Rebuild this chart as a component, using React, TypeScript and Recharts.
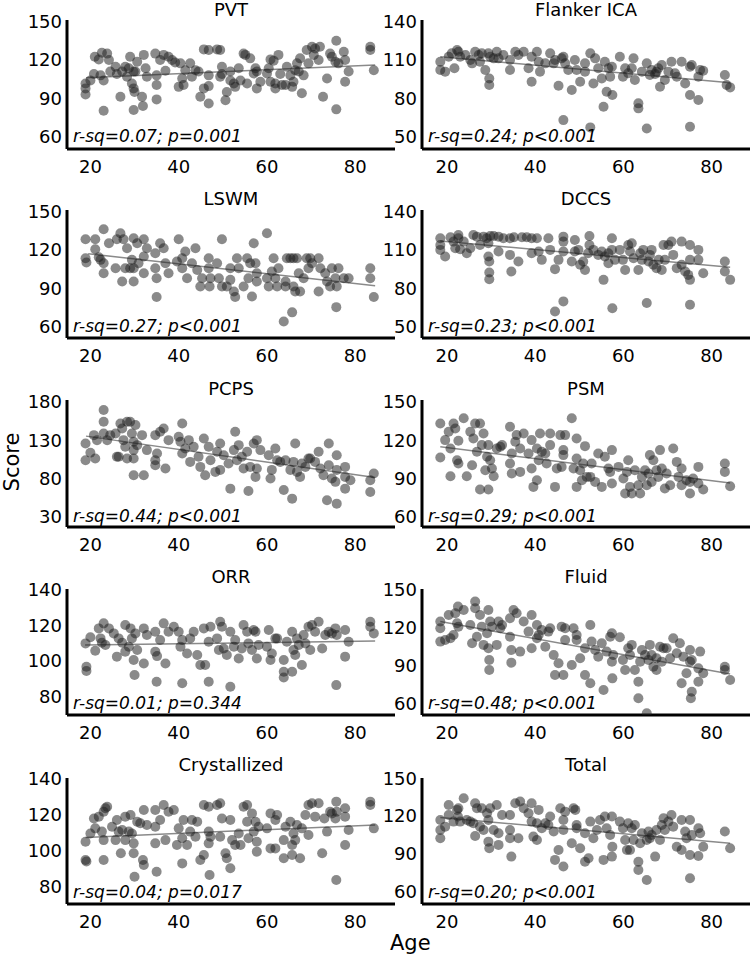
import React from 'react';
import { ScatterChart, Scatter, XAxis, YAxis, ReferenceLine } from 'recharts';

type Pt = [number, number];

const pvtPoints: Pt[] = [
  [18.9,101.7],[18.9,97.8],[18.9,93],[20,104],[20.8,109],[21,122.6],[21.9,120.5],[22.3,108],[22.6,125.7],[23,104],
  [23,80.3],[23.8,125],[24.2,120],[24.5,111],[25.7,114.8],[26,109],[26.8,91.3],[27.2,111],[27.9,114.8],[28.3,107],
  [28.7,113.5],[29,122.6],[29.4,101.7],[29.8,111],[29.8,97.8],[29.8,80.9],[30,95],[30.2,111],[30.6,118.7],[31.7,91.3],
  [31.9,84],[32.1,124],[32.5,113.5],[32.8,107],[34.7,125],[35,108],[35,100.4],[35,89.2],[35.8,120],[36.6,124],
  [37,111.6],[37.7,122.6],[38.5,120],[39.2,118],[40,99],[40.4,117.4],[40.8,105.6],[41.1,100.4],[41.5,112],[42.6,117.4],
  [43,107],[43.8,112],[44.5,111],[44.9,91.3],[45.7,128.3],[45.7,97.8],[46.8,127.8],[46.8,108],[46.8,99.6],[46.8,86],
  [48.7,128.3],[49.4,127.8],[49.4,107],[49.8,114.8],[49.8,109],[50.6,88.6],[50.9,95],[51.7,111],[51.7,104],[52.5,101.7],
  [52.8,99],[53.6,113.5],[54,104],[54.7,125],[55.1,124],[55.5,101.7],[56.2,121.3],[57,109.5],[57.4,113.5],[57.7,111],
  [57.7,97.8],[58.5,103],[60,109.5],[60.4,113.5],[60.8,120.5],[60.8,103],[61.5,119.5],[61.9,101.7],[61.9,97.8],[62.6,124],
  [63,109],[63.4,100.4],[64.2,100.4],[64.5,114.8],[65.3,108],[65.7,99],[66,103],[66.4,112],[66.8,117.4],[67.2,111],
  [67.5,121.3],[67.9,94],[68.3,108],[69,127.8],[69.4,117.4],[70.2,130.4],[70.6,124],[70.9,129],[71.7,120],[72,130.4],
  [72.7,91.3],[73.6,105.6],[74.3,125],[74.7,122.6],[75.5,118.7],[75.7,135.1],[75.7,81.4],[76.2,117.4],[77.4,126.5],[77.7,103],
  [77.7,120],[78.5,111],[83.4,130.4],[83.4,127.8],[84.2,112]
];

const flankerPoints: Pt[] = [
  [18.5,108.7],[18.5,102.2],[19.6,100.9],[20.4,112.6],[21.1,115.2],[21.7,103.5],[22.3,117.8],[22.6,116.5],[23,112.6],[24.2,113.9],
  [25.3,110],[25.7,107.4],[26.4,116.5],[27.2,113.9],[27.5,108.7],[27.9,115.2],[28.7,102.2],[29.4,115.2],[29.6,95.6],[29.6,90.4],
  [29.8,112.6],[30.6,111.3],[31.3,116.5],[31.7,111.3],[32.8,113.9],[34.3,110],[34.3,102.2],[35.5,116.5],[36.2,113.9],[37.4,116.5],
  [38.5,103.5],[39.2,112.6],[39.2,93],[40.4,116.5],[40.8,108.7],[41.1,100.9],[42.3,107.4],[43.4,115.2],[44.2,107.4],[44.5,110],
  [45.3,89.9],[46,111.3],[46.4,112.6],[46.4,63],[46.8,107.4],[47.5,102.2],[48.3,86.5],[49,110],[49.4,102.2],[50.2,93],
  [51.3,100.9],[51.3,107.4],[52.5,57.3],[52.5,115.2],[53.2,91.7],[53.6,111.3],[54.3,103.5],[55.1,95.6],[55.5,73.5],[55.8,108.7],
  [56.2,85.2],[56.6,103.5],[57,97],[57.4,104.8],[57.5,82.6],[59.2,112.6],[59.9,97],[60.4,103.5],[61.1,99.6],[61.9,103.5],
  [62.3,111.3],[62.6,94.3],[63.4,76.1],[63.4,72.2],[64.2,100.9],[65.3,107.4],[65.3,56.5],[66,98.3],[66.4,102.2],[67.2,99],
  [67.5,100.9],[67.9,103.5],[68.3,89.1],[68.7,106.1],[69.4,94.3],[70.2,100.9],[70.9,108.7],[71.7,99.6],[72.1,97],[73.2,108.7],
  [74,91.7],[75.1,104.8],[75.1,57.8],[75.1,82.6],[75.5,106.1],[77,97],[77,78.7],[77.4,102.2],[78.1,101.6],[83,98.3],
  [83.4,90.4],[84.2,88.6]
];

const lswmPoints: Pt[] = [
  [18.9,128.3],[18.9,113.5],[19.1,110.1],[21.1,128.3],[21.1,120.5],[21.9,114.3],[22.3,112.2],[23,136.2],[23,101.7],[23,109.6],
  [24.2,125.2],[25.7,105.6],[26,128.3],[26.8,133],[27.2,95.2],[27.5,128.3],[27.9,105.6],[28.3,121.3],[29,105.6],[29.4,112.2],
  [29.8,129.1],[29.8,105.6],[29.8,95.2],[30.6,125.2],[30.9,109.6],[32.1,128.3],[32.1,114.8],[32.1,101.7],[32.8,121.3],[34.7,117.4],
  [34.7,105.6],[35,97.8],[35,83],[35.8,125.2],[36.6,121.3],[37,109.6],[37.7,101.7],[40,128.3],[39.6,110.9],[40.8,113.5],
  [40.8,105.6],[41.5,118.7],[41.9,97.8],[43,109.6],[43.8,121.3],[44.2,104.3],[44.9,91.3],[45.3,97.8],[46.8,113.5],[46.8,105.6],
  [47,91.3],[47.2,97.8],[48.7,109.6],[49.1,97.8],[49.8,128.3],[49.8,91.3],[50.9,91.3],[51.7,105.6],[51.7,96.5],[52.5,87.4],
  [52.8,83],[53.2,113.5],[53.6,105.6],[54.7,91.3],[55.5,113.5],[55.8,97.8],[56.2,109.6],[56.6,83.5],[57,125.2],[57.4,109.6],
  [57.7,101.7],[57.7,95.2],[60,133],[60,97.8],[60.4,91.3],[61.1,103],[61.5,113.5],[61.9,97.8],[62.3,91.3],[62.6,105.6],
  [63.8,63.9],[64.2,95.2],[64.2,91.3],[64.5,113.5],[65.3,113.5],[65.7,71],[66,113.5],[66,91.3],[66.4,87.4],[66.8,113.5],
  [67.2,101.7],[67.5,87.4],[68.3,97.8],[69,113.5],[69.4,105.6],[69.8,113.5],[70.2,109.6],[71.7,113.5],[71.7,87.4],[72.1,105.6],
  [73.2,101.7],[73.6,95.2],[74.3,91.3],[74.7,105.6],[75.5,97.8],[75.7,75.1],[75.8,91.3],[76.2,105.6],[77.4,97.8],[78.5,97.8],
  [83.4,105.6],[83.4,97.8],[84.2,83]
];

const dccsPoints: Pt[] = [
  [18.5,119.1],[18.5,113.9],[18.5,110],[19.6,104.8],[20.8,119.9],[21.5,116.5],[21.9,111.3],[22.6,121.7],[22.6,119.1],[23,110.5],
  [23.8,116.5],[24.5,107.4],[25.3,111.3],[26,121.7],[26.8,120.4],[27.5,113.9],[28.3,120.4],[29,119.1],[29.4,115.2],[29.4,104.8],
  [29.6,100.9],[29.6,92.3],[29.6,87],[29.8,120.9],[30.6,120.9],[31.7,120.4],[31.7,108.7],[32.8,119.1],[34.3,119.1],[34.3,106.1],
  [34.6,93],[35.2,119.9],[36.2,100.9],[37,119.9],[38.1,119.9],[39.2,119.1],[39.2,107.4],[40.4,119.1],[40.8,108.7],[41.5,102.2],
  [43,119.1],[43.4,110],[44.5,94.9],[44.5,61.7],[45.3,102.2],[46.4,120.4],[46.4,116.5],[46.4,108.7],[46.4,69.6],[48.3,100.9],
  [49,117.8],[49,108.7],[49.8,110],[50.2,98.3],[50.9,100.9],[51.3,94.3],[52,107.4],[52.3,120.9],[52.3,113.9],[53.2,110],
  [54.3,106.1],[55.1,108.7],[55.5,86.5],[55.8,104.8],[56.6,107.4],[56.6,99.6],[57.4,119.1],[57.4,110],[57.5,64.3],[58.1,102.2],
  [59.2,110],[59.9,102.2],[60.4,94.3],[61.1,113.9],[61.5,108.7],[61.9,115.2],[62.3,103.5],[63.4,94.3],[63.8,107.4],[64.2,102.2],
  [64.5,110],[65.3,68.3],[65.7,100.9],[66,106.1],[66.4,110],[66.8,98.3],[67.5,95.7],[68,102.2],[68.7,94.3],[69.4,102.2],
  [69.1,113.9],[70.2,113.9],[70.9,116.5],[71.3,106.1],[72.1,95.7],[73.2,116.5],[73.2,98.3],[74,93],[74.7,90.4],[75.1,67],
  [75.1,113.9],[75.1,102.2],[75.1,86.5],[77,110],[77,102.2],[78.1,91.7],[83,100.9],[83,93],[84.2,86.5]
];

const pcpsPoints: Pt[] = [
  [18.9,125.7],[18.9,103.9],[20,113.5],[20.8,136.5],[21.1,106.1],[21.5,130],[23,169.1],[23,153.9],[23,138.7],[23.8,130],
  [24.5,136.5],[25.7,138.7],[26,108.3],[26.4,108.3],[26.8,151.7],[27.2,145.2],[27.5,130],[27.9,121.3],[28.3,153.9],[28.3,106.1],
  [29,153.9],[29.4,138.7],[29.8,117],[29.8,106.1],[29.8,84.3],[29.8,127.8],[30.2,149.6],[30.6,123.5],[31.7,136.5],[32.1,84.3],
  [32.8,117],[34.7,103.9],[34.7,97.4],[34.7,136.5],[35.1,112.6],[35.8,140.9],[36.6,145.2],[37,93],[37.7,130],[40,134.3],
  [40.4,127.8],[40.8,151.7],[40.8,112.6],[41.5,119.1],[42.3,130],[42.6,101.7],[43.4,121.3],[44.5,108.3],[44.9,95.2],[45.7,132.2],
  [46,84.3],[46.8,121.3],[47.2,103.9],[48.3,88.7],[48.7,114.8],[49.4,125.7],[49.4,91.3],[50.2,110.4],[51.3,99.6],[51.7,66.9],
  [52.5,117],[52.8,140.9],[53.2,103.9],[53.6,123.5],[54.3,108.3],[54.7,93],[55.5,114.8],[55.8,63.9],[56.2,95.2],[57,125.7],
  [57.4,82.2],[57.7,93],[57.7,130],[58.5,117],[60.4,110.4],[60.8,80],[61.1,91.3],[61.9,119.1],[62.3,103.9],[63,101.7],
  [63.8,65.2],[64.2,103.9],[65.3,91.3],[65.7,53.9],[66,101.7],[66.4,125.7],[66.8,88.7],[67.5,82.2],[67.9,99.6],[68.7,95.2],
  [69.4,106.1],[69.8,106.1],[70.9,101.7],[71.7,114.8],[72.1,93],[72.8,84.3],[73.6,51.7],[74,125.7],[74,97.4],[74.7,80],
  [75.5,75.7],[75.8,110.4],[75.8,91.3],[75.8,47.4],[77.7,95.2],[77.7,82.2],[77.7,66.9],[78.9,77.8],[83.4,77.8],[83.4,62.6],
  [84.2,86.5]
];

const psmPoints: Pt[] = [
  [18.5,133],[18.5,106.4],[19.6,120],[20.4,126.5],[20.8,113.5],[20.8,91.8],[21.5,133],[21.9,129.1],[22.3,104.3],[22.6,101.7],
  [22.6,119.5],[23.8,137],[24.5,91.8],[25.3,126.5],[25.7,100.4],[26,121.3],[26.4,133],[26.8,110.9],[27.5,133],[27.5,81.4],
  [27.9,116.1],[28.3,125.2],[28.7,96.5],[29.1,107],[29.4,116.1],[29.4,81.4],[29.8,104.3],[30.2,97.8],[30.6,91.8],[31.3,113.5],
  [32.1,114.8],[32.5,116.1],[34.3,130.4],[34.3,101.7],[34.7,109.6],[34.7,93.9],[35.5,118.7],[35.8,123.9],[36.6,113.5],[36.6,95.2],
  [37.4,125.2],[38.5,109.6],[39.2,120],[39.2,97.8],[39.6,83.5],[40.4,113.5],[40.4,88.7],[40.8,104.3],[41.1,125.2],[41.5,110.9],
  [42.3,109.6],[42.6,101.7],[43.4,125.2],[43.4,116.1],[44.5,83.5],[44.9,97.8],[45.7,123.9],[46,99.1],[46.4,112.2],[46.4,108.3],
  [46.8,123.9],[48.3,137],[48.7,97.8],[49.4,121.3],[49.4,105.6],[49.4,83.5],[50.2,96.5],[50.6,88.7],[50.9,101.7],[51.3,115.3],
  [51.7,91.3],[52.5,91.3],[52.8,101.7],[53.6,87.4],[54.3,109.6],[55.1,83.5],[55.8,107],[56.6,97.8],[57,95.2],[57.4,112.2],
  [57.4,86.1],[58.9,99.1],[60,90],[60.4,78.3],[60.8,95.2],[61.1,104.3],[61.5,83.5],[61.9,78.3],[62.6,96.5],[63.4,84.8],
  [63.8,78.3],[64.2,91.3],[64.9,96.5],[65.3,84.8],[65.7,93.9],[66,108.3],[66.4,87.4],[66.8,104.3],[67.5,96.5],[67.9,91.3],
  [68.3,112.2],[68.7,97.8],[69.4,82.2],[69.8,93.9],[70.6,84.8],[71.3,113.5],[72.1,103],[72.5,91.3],[73.2,97.8],[73.2,84.8],
  [74.3,88.7],[75.1,87.4],[75.1,78.3],[75.8,90],[77,99.1],[77,86.1],[78.1,81.4],[83,101.7],[83,95.2],[84.2,84]
];

const orrPoints: Pt[] = [
  [18.9,109.8],[19.1,96.8],[19.1,94.4],[20,113.2],[21.1,105.7],[21.9,118.2],[22.3,112.6],[22.6,110.2],[23,121],[23.4,108.9],
  [24.2,118.2],[25.3,115.4],[26,102.4],[26.4,112.6],[27.2,110.2],[27.9,120.1],[27.9,105.2],[28.7,108],[29.1,118.2],[29.4,112.6],
  [29.8,100.5],[30,92.1],[30.2,115.4],[30.6,106.1],[32.1,118.2],[32.1,98.6],[32.8,114.5],[34.7,116.3],[34.7,105.2],[35,88.4],
  [35.1,102.7],[35.8,111.7],[36.6,121],[37,98.6],[37.7,116.3],[38.9,119.1],[40,116.3],[40.4,108],[40.8,111.7],[40.8,87.5],
  [41.9,104.2],[42.6,112.6],[43.4,116.3],[44.2,103.3],[44.9,97.7],[45.7,118.2],[46,97.7],[46.8,110.7],[46.8,88.4],[47.2,119.1],
  [48.7,112.6],[49.1,106.1],[49.4,121.9],[49.8,119.1],[50.2,107],[50.9,103.3],[51.7,116.3],[51.7,85.6],[52.5,108],[52.8,111.7],
  [53.6,101.4],[54.3,107],[54.7,120.1],[55.5,116.3],[55.8,109.8],[56.6,106.1],[57,117.3],[57.4,116.3],[57.7,101.4],[58.1,108.9],
  [60,108],[60.4,117.3],[60.8,100.5],[61.1,104.2],[61.9,112.6],[62.3,112.6],[63.8,100.5],[63.8,94],[63.8,90.8],[64.5,110.7],
  [65.7,116.3],[65.7,94],[66,106.1],[66.4,103.3],[66.8,112.6],[67.2,108.9],[67.9,97.7],[68.3,114.5],[68.7,109.8],[69.4,119.1],
  [69.8,106.1],[70.2,120.1],[70.9,116.3],[71.7,121.9],[72.5,107],[73.2,114.5],[74,116.3],[74.7,115.4],[75.5,118.2],[75.7,86.5],
  [75.8,114.5],[77.7,117.3],[77.7,102.4],[78.5,110.7],[83.4,121.9],[83.4,119.1],[84.2,115.4]
];

const fluidPoints: Pt[] = [
  [18.5,124.5],[18.5,119.2],[18.5,108.7],[19.6,110],[20.4,129.7],[20.8,111.3],[21.5,113.9],[21.9,131.1],[22.3,123.2],[22.5,136.3],
  [22.6,120.5],[23.8,133.7],[25.3,121.8],[25.7,107.4],[26.4,140.3],[26.4,135],[26.8,112.6],[27.5,129.7],[27.9,120.5],[28.3,106.1],
  [29.1,115.3],[29.4,133.7],[29.4,103.4],[29.6,94.2],[29.6,86.3],[29.8,124.5],[30.2,120.5],[31.3,106.1],[31.7,124.5],[32.1,119.2],
  [32.5,121.8],[34.3,127.1],[34.3,112.6],[34.6,102.1],[34.6,92.1],[35.1,133.7],[35.8,131.1],[36.6,100.8],[37.4,124.5],[38.5,116.6],
  [39.2,129.7],[39.2,103.4],[40.4,121.8],[40.4,111.3],[40.8,113.9],[41.5,117.9],[42.3,104.7],[43,116.6],[43.4,119.2],[44.2,98.2],
  [44.5,82.4],[45.3,91.6],[46,120.5],[46.4,82.4],[46.8,119.2],[46.8,110],[48.3,90.3],[48.7,119.2],[49.4,113.9],[49.4,110],
  [50.2,95.5],[51.3,82.4],[51.3,103.4],[52.5,121.8],[52.5,75.8],[52.8,108.7],[53.6,102.1],[54.3,96.8],[55.1,107.4],[55.5,70.5],
  [56.2,100.8],[57,112.6],[57.4,115.3],[57.4,92.9],[57.7,98.2],[57.5,79.7],[59.2,112.1],[59.9,94.2],[60.4,86.3],[61.1,103.4],
  [61.5,98.2],[61.9,106.1],[62.6,86.3],[63.4,64],[63.4,77.1],[63.8,92.9],[64.2,102.1],[64.9,98.2],[65.3,52.1],[65.7,94.2],
  [66,106.1],[66.4,98.2],[66.8,88.9],[67.5,95.5],[67.5,86.3],[68.3,104.7],[68.7,92.9],[69.1,103.4],[69.8,103.4],[70.6,95.5],
  [71.3,111.3],[72.1,99.5],[72.8,107.4],[73.2,75.8],[73.6,96.8],[74.3,83.7],[75.1,92.9],[75.1,102.1],[75.5,69.2],[75.3,64],
  [75.5,94.2],[77,87.6],[77,77.1],[77.4,100.8],[78.1,83.7],[83,88.9],[83,86.3],[84.2,78.4]
];

const crystPoints: Pt[] = [
  [18.9,104.9],[18.9,94.8],[19.1,93.9],[20,109.5],[20.8,117.8],[21.1,112.3],[21.9,118.8],[22.6,110.5],[23,105.8],[23,94.8],
  [23.4,123.4],[23.8,124.3],[23,121.5],[24.9,113.2],[25.7,105.8],[26,116.9],[26.4,110.5],[26.9,98.5],[27.2,111.4],[27.9,118.8],
  [27.9,105.8],[28.7,110.5],[29.1,119.7],[29.4,109.5],[29.8,104],[29.8,98.5],[30,85.5],[30.6,116],[31.3,115.1],[31.9,94.8],
  [32.1,122.5],[32.1,92],[32.8,114.2],[34.7,122.5],[34.7,113.2],[34.7,104],[35,88.3],[35.8,116.9],[36.6,125.2],[37,105.8],
  [37.7,121.5],[38.9,122.5],[40,112.3],[39.6,103.1],[40.8,106.8],[40.8,92.9],[41.1,116.9],[41.9,103.1],[42.6,110.5],[43,116.9],
  [43.8,107.7],[44.2,116],[44.9,94.8],[45.7,125.2],[45.7,97.5],[46.8,124.3],[46.8,110.5],[46.8,104],[47,86.5],[47.2,107.7],
  [48.7,125.2],[49.4,126.2],[49.4,107.7],[49.8,117.8],[50.6,98.5],[50.9,95.7],[51.7,116.9],[51.7,90.2],[52.1,105.8],[52.8,103.1],
  [53.6,109.5],[54,103.1],[54.7,124.3],[55.5,125.2],[55.5,116],[55.8,106.8],[56.6,120.6],[57,110.5],[57.4,116],[57.7,104.9],
  [57.7,99.4],[58.1,113.2],[60,112.3],[60.8,120.6],[60.8,101.2],[61.9,116.9],[61.9,101.2],[62.3,119.7],[63.8,105.8],[63.8,95.7],
  [64.2,113.2],[65.3,116],[65.7,97.5],[65.7,103.1],[66,109.5],[66.4,105.8],[66.8,114.2],[67.5,95.7],[67.9,112.3],[68.7,119.7],
  [69.4,108.6],[69.4,125.2],[70.2,126.2],[70.9,118.8],[71.7,126.2],[72.5,98.5],[73,117.8],[73.6,110.5],[74.3,121.5],[74.7,120.6],
  [75.5,117.8],[75.7,127.1],[75.7,83.7],[75.8,121.5],[77.7,123.4],[77.7,118.8],[77.7,103.1],[78.5,111.4],[83.4,127.1],[83.4,125.2],
  [84.2,112.3]
];

const totalPoints: Pt[] = [
  [18.5,116.9],[18.5,109],[18.5,102.4],[19.6,111.6],[20.4,128.8],[20.4,120.9],[21.5,115.6],[22.3,124.9],[22.5,119.6],[22.6,126.2],
  [23,115.6],[23.8,134.1],[24.5,116.9],[25.3,115.6],[26,114.3],[26.4,130.1],[26.4,104.2],[26.8,126.2],[27.5,111.6],[27.9,126.2],
  [28.3,109],[29.1,122.2],[29.4,116.9],[29.4,99.7],[29.6,94.4],[29.8,126.2],[30.6,109],[31.3,128.8],[31.7,106.3],[31.7,97.1],
  [32.5,120.9],[34.3,120.9],[34.3,109],[34.3,102.4],[34.6,87.8],[35.5,130.1],[36.2,102.4],[36.6,131.5],[37.4,126.2],[38.5,122.2],
  [39.2,130.1],[39.2,115.6],[39.6,103.7],[40.4,101],[40.4,114.3],[40.8,124.9],[41.5,110.3],[42.3,114.3],[43,112.9],[43.4,119.6],
  [44.2,107.7],[44.5,85.2],[45.3,93.1],[45.7,126.2],[46.4,109],[46.4,116.9],[46.4,79.9],[46.8,123.5],[48.3,98.4],[48.7,126.2],
  [49.1,124.9],[49.4,112.9],[49.4,110.3],[50.2,94.4],[51.3,106.3],[51.3,83.8],[52.1,86.5],[52.5,115.6],[53.2,102.4],[54,109],
  [54.7,116.9],[55.5,85.2],[55.8,119.6],[56.2,110.3],[57,105],[57.4,119.6],[57.4,87.8],[57.5,95.7],[59.2,115.6],[59.9,110.3],
  [60.4,101],[60.8,93.1],[61.1,114.3],[61.5,93.1],[61.9,110.3],[62.3,101],[62.6,112.9],[63.4,83.8],[63.4,77.2],[63.8,98.4],
  [64.2,106.3],[65.3,69.3],[65.3,101],[65.7,107.7],[66,102.4],[66.4,105],[67.2,87.8],[67.5,109],[68.3,101],[68.7,112.9],
  [69.1,118.3],[69.4,109],[70.2,115.6],[70.9,120.9],[71.3,111.6],[72.1,95.7],[73.2,116.9],[73.2,93.1],[74,107.7],[74.3,102.4],
  [75.1,70.6],[75.1,116.9],[75.1,89.1],[75.5,105],[77,110.3],[77,88.3],[77.4,106.3],[78.1,95.7],[83,107.7],[84.2,94.4]
];

const allPoints: Pt[][] = [
  pvtPoints, flankerPoints, lswmPoints, dccsPoints, pcpsPoints,
  psmPoints, orrPoints, fluidPoints, crystPoints, totalPoints
];

const panelTitles = ['PVT', 'Flanker ICA', 'LSWM', 'DCCS', 'PCPS', 'PSM', 'ORR', 'Fluid', 'Crystallized', 'Total'];

const statLabels = [
  'r-sq=0.07; p=0.001', 'r-sq=0.24; p<0.001',
  'r-sq=0.27; p<0.001', 'r-sq=0.23; p<0.001',
  'r-sq=0.44; p<0.001', 'r-sq=0.29; p<0.001',
  'r-sq=0.01; p=0.344', 'r-sq=0.48; p<0.001',
  'r-sq=0.04; p=0.017', 'r-sq=0.20; p<0.001'
];

const yTickSets: number[][] = [
  [60, 90, 120, 150], [50, 80, 110, 140],
  [60, 90, 120, 150], [50, 80, 110, 140],
  [30, 80, 130, 180], [60, 90, 120, 150],
  [80, 100, 120, 140], [60, 90, 120, 150],
  [80, 100, 120, 140], [60, 90, 120, 150]
];

const yDomains: number[][] = [
  [50.4, 151.3], [40.4, 141.3],
  [50.9, 151.3], [40.9, 141.3],
  [17, 182.2], [52.2, 151.3],
  [69.8, 140.2], [50.8, 150.2],
  [70.4, 140.2], [50.2, 150.2]
];

const fitLines: Pt[][] = [
  [[19, 106.2], [84.5, 116.1]],
  [[18.5, 112.6], [84.2, 92.3]],
  [[19.5, 117], [84.5, 91.8]],
  [[18.5, 117], [84.2, 96.4]],
  [[19, 135.2], [84.5, 81.3]],
  [[18.5, 114.8], [84.2, 86.6]],
  [[18.8, 108.9], [84.5, 111.1]],
  [[18.5, 124.5], [84.2, 83.2]],
  [[18.9, 107.3], [84.5, 114.2]],
  [[18.5, 118.8], [84.2, 98.4]]
];

const ageTicks = [20, 40, 60, 80];
const xDomains: number[][] = [[14.7, 89.0], [14.35, 88.7]];

const FONT = '"DejaVu Sans", Verdana, sans-serif';
const COL_LEFT = [67, 422];
const PLOT_W = 328;
const ROW_TOP = [20, 210, 400, 589, 778];
const ROW_H = [129, 128, 127, 126, 126];
const TITLE_BASE = [16, 205, 395, 583, 771];
const STAT_BASE = [142, 332.3, 522.3, 709, 898.3];
const YW = 62;
const XH = 34;
const MT = 14;

function Dot(props: any) {
  const { cx, cy } = props;
  if (cx == null || cy == null) return <g />;
  return <circle cx={cx} cy={cy} r={5} fill="#1e1e1e" fillOpacity={0.52} />;
}

function Panel({ idx }: { idx: number }) {
  const col = idx % 2;
  const row = Math.floor(idx / 2);
  const plotLeft = COL_LEFT[col];
  const top = ROW_TOP[row];
  const h = ROW_H[row];
  const data = allPoints[idx].map(([age, score]) => ({ age, score }));
  const fit = fitLines[idx];
  const tickStyle = { fill: '#000', fontSize: 18, fontFamily: FONT };
  return (
    <div style={{ position: 'absolute', left: plotLeft - YW, top: top - MT }}>
      <ScatterChart width={YW + PLOT_W} height={h + XH + MT} margin={{ top: MT, right: 0, bottom: 0, left: 0 }}>
        <XAxis
          type="number"
          dataKey="age"
          domain={xDomains[col] as [number, number]}
          allowDataOverflow
          ticks={ageTicks}
          interval={0}
          tickLine={false}
          tickSize={5}
          tickMargin={6}
          axisLine={{ stroke: '#000', strokeWidth: 3 }}
          tick={tickStyle}
          height={XH}
        />
        <YAxis
          type="number"
          dataKey="score"
          domain={yDomains[idx] as [number, number]}
          allowDataOverflow
          ticks={yTickSets[idx]}
          interval={0}
          tickLine={false}
          tickSize={3}
          tickMargin={2}
          axisLine={{ stroke: '#000', strokeWidth: 3 }}
          tick={tickStyle}
          width={YW}
        />
        <Scatter data={data} isAnimationActive={false} shape={Dot} />
        <ReferenceLine
          segment={[{ x: fit[0][0], y: fit[0][1] }, { x: fit[1][0], y: fit[1][1] }]}
          stroke="#8a8a8a"
          strokeWidth={1.5}
          ifOverflow="visible"
        />
      </ScatterChart>
    </div>
  );
}

export default function App() {
  const idxs = [0, 1, 2, 3, 4, 5, 6, 7, 8, 9];
  return (
    <div style={{ position: 'absolute', left: 0, top: 0, width: 750, height: 958, background: '#fff', overflow: 'hidden' }}>
      {idxs.map((i) => <Panel key={i} idx={i} />)}
      <svg width={750} height={958} style={{ position: 'absolute', left: 0, top: 0, pointerEvents: 'none' }}>
        {idxs.map((i) => {
          const col = i % 2;
          const row = Math.floor(i / 2);
          const plotLeft = COL_LEFT[col];
          return (
            <g key={i}>
              <text x={plotLeft + PLOT_W / 2} y={TITLE_BASE[row]} textAnchor="middle" fontFamily={FONT} fontSize={18} fill="#000">
                {panelTitles[i]}
              </text>
              <text x={plotLeft + 6} y={STAT_BASE[row]} textAnchor="start" fontFamily={FONT} fontSize={17} fontStyle="italic" fill="#000">
                {statLabels[i]}
              </text>
            </g>
          );
        })}
        <text x={18.5} y={462} transform="rotate(-90 18.5 462)" textAnchor="middle" fontFamily={FONT} fontSize={21} fill="#000">
          Score
        </text>
        <text x={390} y={950} textAnchor="start" fontFamily={FONT} fontSize={21} fill="#000">
          Age
        </text>
      </svg>
    </div>
  );
}
